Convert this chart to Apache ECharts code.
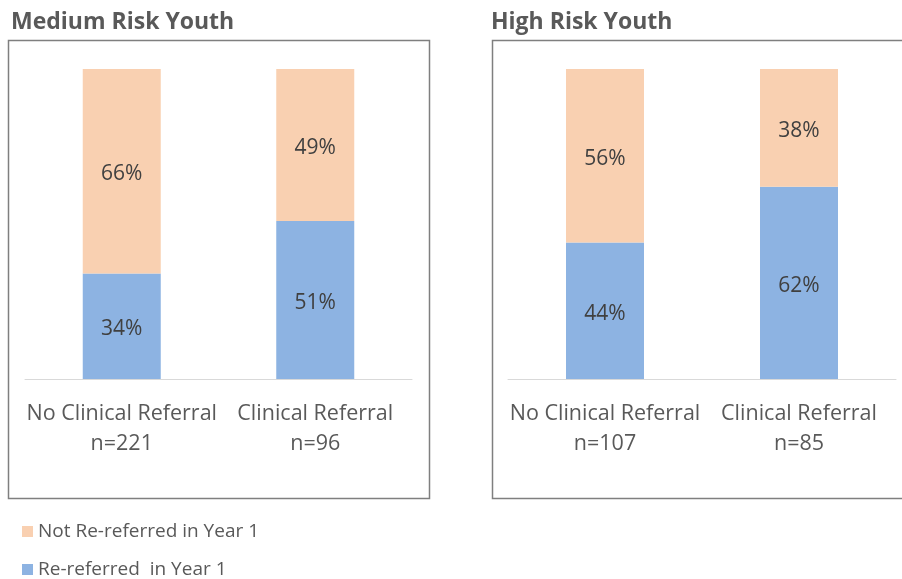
<!DOCTYPE html>
<html><head><meta charset="utf-8">
<script src="https://cdn.jsdelivr.net/npm/echarts@6/dist/echarts.min.js"></script>
<style>html,body{margin:0;padding:0;background:#fff}#c{width:902px;height:579px}</style>
</head><body><div id="c"></div>
<script>
const categoriesMedium = ['No Clinical Referral\nn=221', 'Clinical Referral\nn=96'];
const categoriesHigh = ['No Clinical Referral\nn=107', 'Clinical Referral\nn=85'];
const reReferredMedium = [34, 51];
const notReReferredMedium = [66, 49];
const reReferredHigh = [44, 62];
const notReReferredHigh = [56, 38];
const seriesNames = ['Not Re-referred in Year 1', 'Re-referred  in Year 1'];
const panelTitles = ['Medium Risk Youth', 'High Risk Youth'];

const FONT = 'Open Sans';
const ORANGE = '#F9D0B1';
const BLUE = '#8DB3E2';
const chart = echarts.init(document.getElementById('c'), null, {renderer: 'canvas'});

function xAx(gi, cats) {
  return {type: 'category', gridIndex: gi, data: cats,
    axisLine: {lineStyle: {color: '#d9d9d9', width: 1}}, axisTick: {show: false},
    axisLabel: {fontFamily: FONT, fontSize: 21.5, color: '#595959', lineHeight: 30, margin: 20, interval: 0}};
}
function yAx(gi) {
  return {type: 'value', gridIndex: gi, min: 0, max: 100, show: false, splitLine: {show: false}};
}
const lbl = {show: true, position: 'inside', offset: [0, 3], fontFamily: FONT, fontSize: 21, color: '#404040', formatter: '{c}%'};
function bar(name, gi, data, color) {
  return {name, type: 'bar', xAxisIndex: gi, yAxisIndex: gi, stack: 's' + gi, data,
    barWidth: 78, itemStyle: {color}, label: lbl, emphasis: {disabled: true}};
}
function leg(name, top) {
  return {orient: 'vertical', left: 17, top, icon: 'rect', itemWidth: 11, itemHeight: 11, itemGap: 6,
    data: [name], textStyle: {fontFamily: FONT, fontSize: 19, color: '#595959'}};
}

chart.setOption({
  animation: false,
  grid: [
    {left: 25, width: 387, top: 69, height: 310},
    {left: 508, width: 388, top: 69, height: 310}
  ],
  xAxis: [xAx(0, categoriesMedium), xAx(1, categoriesHigh)],
  yAxis: [yAx(0), yAx(1)],
  legend: [leg(seriesNames[0], 517), leg(seriesNames[1], 555)],
  graphic: [
    {type: 'rect', shape: {x: 8.5, y: 40.5, width: 421, height: 458}, style: {fill: 'none', stroke: '#7f7f7f', lineWidth: 1.5}, z: -1},
    {type: 'rect', shape: {x: 492.5, y: 40.5, width: 420, height: 458}, style: {fill: 'none', stroke: '#7f7f7f', lineWidth: 1.5}, z: -1},
    {type: 'text', left: 11, top: 11, style: {text: panelTitles[0], font: 'bold 23px "Open Sans"', fill: '#595959'}},
    {type: 'text', left: 491, top: 11, style: {text: panelTitles[1], font: 'bold 23px "Open Sans"', fill: '#595959'}}
  ],
  series: [
    bar(seriesNames[1], 0, reReferredMedium, BLUE),
    bar(seriesNames[0], 0, notReReferredMedium, ORANGE),
    bar(seriesNames[1], 1, reReferredHigh, BLUE),
    bar(seriesNames[0], 1, notReReferredHigh, ORANGE)
  ]
});
</script></body></html>
